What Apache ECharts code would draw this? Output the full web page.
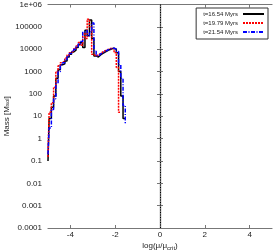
<!DOCTYPE html>
<html><head><meta charset="utf-8">
<script src="https://cdn.jsdelivr.net/npm/echarts@6/dist/echarts.min.js"></script>
<style>html,body{margin:0;padding:0;background:#fff}#c{width:273px;height:252px}</style>
</head><body><div id="c"></div>
<script>
const xBins = [-5.0,-4.9,-4.8,-4.7,-4.6,-4.5,-4.4,-4.3,-4.2,-4.1,-4.0,-3.9,-3.8,-3.7,-3.6,-3.5,-3.4,-3.3,-3.2,-3.1,-3.0,-2.9,-2.8,-2.7,-2.6,-2.5,-2.4,-2.3,-2.2,-2.1,-2.0,-1.9,-1.8,-1.7,-1.6,-1.5];
const massT1 = [0.1,8,25,80,500,1200,2000,2200,3000,4500,6000,7500,9000,12000,16000,20000,12000,70000,40000,200000,30000,5000,4500,5500,6500,7500,8500,9500,10500,11000,10000,7000,1000,80,8,null];
const massT2 = [0.15,15,40,200,1000,1800,2500,3000,4000,5500,7000,8500,11000,14000,20000,15000,50000,30000,220000,100000,6000,5000,5500,6500,7500,8500,9500,10500,11000,10500,7000,1500,15,null,null,null];
const massT3 = [0.2,3,20,60,300,1000,2000,2500,3500,5000,6500,8000,10000,13000,17000,22000,60000,70000,40000,60000,150000,8000,5000,6000,7000,8000,9000,10000,11000,11000,10000,8000,2000,500,30,5];
const seriesNames = ['t=16.54 Myrs','t=19.79 Myrs','t=21.54 Myrs'];
const xTicks = [-4,-2,0,2,4];
const yTickLabels = {'-4':'0.0001','-3':'0.001','-2':'0.01','-1':'0.1','0':'1','1':'10','2':'100','3':'1000','4':'10000','5':'100000','6':'1e+06'};

function pairs(arr){ return xBins.map((x,i)=>[x,arr[i]]); }
const font = 'Liberation Sans, Arial, sans-serif';
const axisCol = '#777';
const chart = echarts.init(document.getElementById('c'));
const mk = (name, data, color, type, width) => ({
  name, type:'line', data: pairs(data), step:'middle', symbol:'none',
  lineStyle:{color, type, width}, itemStyle:{color}, xAxisIndex:0, yAxisIndex:0, animation:false
});
const s1 = mk(seriesNames[0], massT1, '#000', 'solid', 1.5);
s1.markLine = {silent:true, symbol:'none', label:{show:false}, lineStyle:{color:'#000', type:[1,1.5], width:1}, data:[{xAxis:0}], animation:false};
chart.setOption({
  animation:false,
  grid:{left:48, right:1, top:4.5, bottom:24, containLabel:false, outerBoundsMode:'none'},
  legend:{
    orient:'vertical', right:5, top:8, align:'right',
    data:seriesNames, borderColor:'#333', borderWidth:1, borderRadius:0,
    padding:[3,3,4,7], itemGap:3, itemWidth:21, itemHeight:7,
    itemStyle:{opacity:0},
    textStyle:{fontSize:6, fontFamily:font, color:'#222'},
    backgroundColor:'#fff'
  },
  xAxis:[{
    type:'value', min:-5, max:5, position:'bottom',
    name:'log(μ/μ{s|crit})', nameLocation:'middle', nameGap:13, nameMoveOverlap:false,
    nameTextStyle:{fontSize:8, fontFamily:font, color:'#222', rich:{s:{fontSize:6, fontFamily:font, verticalAlign:'bottom', padding:[4,0,0,0]}}},
    axisLine:{show:true, lineStyle:{color:axisCol, width:1.2}},
    axisTick:{show:true, inside:true, length:3, customValues:xTicks, lineStyle:{color:axisCol}},
    axisLabel:{customValues:xTicks, fontSize:8, fontFamily:font, color:'#222', margin:3},
    splitLine:{show:false}
  },{
    type:'value', min:-5, max:5, position:'top',
    axisLine:{show:true, lineStyle:{color:axisCol, width:1.2}},
    axisTick:{show:true, inside:true, length:3, customValues:xTicks, lineStyle:{color:axisCol}},
    axisLabel:{show:false}, splitLine:{show:false}
  }],
  yAxis:[{
    type:'log', logBase:10, min:1e-4, max:1e6, position:'left',
    name:'Mass [M{s|sol}]', nameLocation:'middle', nameGap:37, nameRotate:90, nameMoveOverlap:false,
    nameTextStyle:{fontSize:8, fontFamily:font, color:'#222', rich:{s:{fontSize:6, fontFamily:font}}},
    axisLine:{show:true, lineStyle:{color:axisCol, width:1.2}},
    axisTick:{show:true, inside:true, length:3, lineStyle:{color:axisCol}},
    axisLabel:{fontSize:8, fontFamily:font, color:'#222', margin:6,
      formatter:v=>yTickLabels[String(Math.round(Math.log10(v)))]},
    splitLine:{show:false}, minorTick:{show:false}
  },{
    type:'log', logBase:10, min:1e-4, max:1e6, position:'right',
    axisLine:{show:true, lineStyle:{color:axisCol, width:1.2}},
    axisTick:{show:true, inside:true, length:3, lineStyle:{color:axisCol}},
    axisLabel:{show:false}, splitLine:{show:false}
  }],
  series:[
    s1,
    mk(seriesNames[1], massT2, '#ff0000', [2,1], 1.5),
    mk(seriesNames[2], massT3, '#0000ff', [4,1.5,1,1.5], 1.5)
  ]
});
</script></body></html>
